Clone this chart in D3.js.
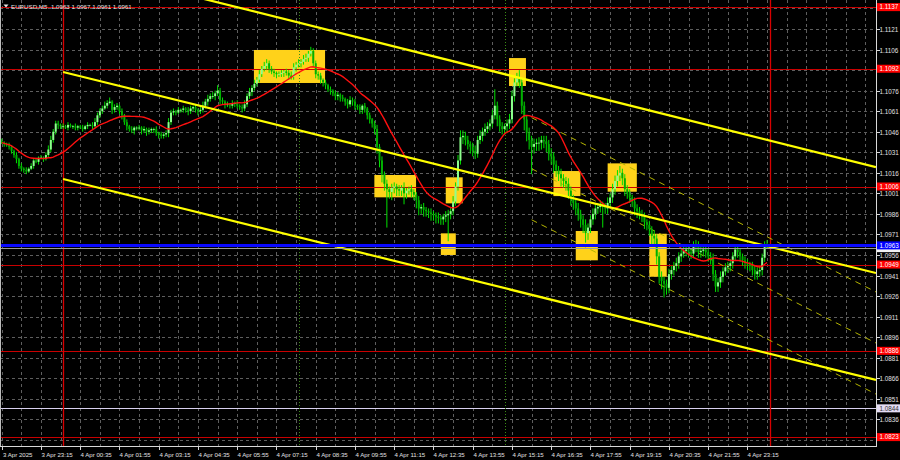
<!DOCTYPE html>
<html><head><meta charset="utf-8">
<script src="https://cdn.jsdelivr.net/npm/d3@7/dist/d3.min.js"></script>
<style>html,body{margin:0;padding:0;background:#000;overflow:hidden}</style>
</head><body><svg id="c" width="900" height="460"></svg>
<script>
// ---------------- DATA ----------------
const symbolTitle = "EURUSD,M5  1.0963 1.0967 1.0961 1.0961";
const PIP_BASE = 1.0900;            // closes are stored as pips above 1.0900
const firstBarTime = Date.UTC(2025, 3, 3, 21, 55);
const barMinutes = 5;
const closePips = [
138,137,136,135,132,129,126,121,119,118,
117,119,121,125,124,127,127,126,129,133,
140,146,152,151,150,150,149,151,150,150,
149,150,149,148,150,151,151,150,153,158,
161,163,165,167,168,162,164,165,161,158,
153,150,148,147,149,149,149,147,148,146,
147,148,148,145,144,143,144,145,153,160,
161,160,162,162,163,162,161,163,164,162,
161,162,165,168,170,172,172,174,176,169,
168,166,166,165,167,167,165,164,163,166,
172,175,178,181,184,188,192,194,196,192,
190,189,188,188,189,190,189,187,186,193,
195,196,197,199,200,203,205,196,188,187,
184,182,180,177,176,174,172,173,171,170,
168,166,169,168,165,164,162,165,163,158,
155,152,148,135,125,115,108,104,102,105,
106,104,103,105,101,103,104,102,100,96,
90,91,89,88,87,86,85,84,83,82,
84,85,86,88,95,106,125,142,143,140,
137,135,132,130,140,143,146,148,150,152,
158,165,155,150,148,150,152,155,172,182,
185,182,165,155,145,140,135,137,138,138,
140,139,137,130,128,122,118,115,112,110,
108,103,97,94,90,86,82,78,72,76,
82,86,90,91,92,91,90,94,98,104,
110,114,116,112,104,101,98,95,90,88,
86,84,80,78,75,70,68,55,40,37,
35,32,42,45,48,50,55,57,59,60,
58,57,62,63,58,59,60,58,55,54,
42,33,36,40,44,47,48,50,55,60,
58,55,52,50,49,48,45,42,44,45,
54,63,61];
const highExtPips = [
2,1,1,2,1,1,2,1,2,1, 2,1,2,1,2,1,2,1,2,3, 3,2,2,2,1,2,1,2,1,1, 2,1,1,2,1,2,1,2,3,2,
2,2,3,2,3,1,2,2,1,2, 1,2,1,2,1,1,2,1,2,1, 2,1,1,2,1,2,1,2,3,2, 2,1,2,1,2,1,2,2,1,2,
1,2,3,2,3,2,3,2,4,2, 2,1,2,1,2,1,2,1,2,3, 2,3,2,3,2,3,2,3,3,2, 2,2,1,2,2,1,2,2,3,3,
2,3,2,3,3,2,3,2,2,2, 2,1,2,1,2,1,2,2,1,2, 1,2,3,2,2,1,2,1,2,1, 2,1,2,3,2,3,2,3,2,3,
3,2,3,2,4,2,2,3,2,2, 3,2,3,2,2,3,2,2,3,2, 2,3,3,3,4,3,4,5,4,3, 3,2,3,4,3,4,3,4,3,3,
4,12,3,3,3,2,3,4,4,3, 4,6,3,3,3,4,3,4,3,4, 3,3,4,3,4,3,3,3,4,3, 3,4,3,3,3,4,3,3,4,3,
3,4,3,3,4,3,3,4,3,4, 4,4,5,3,3,3,3,2,3,3, 3,3,3,2,3,2,4,3,3,4, 3,3,4,3,3,4,3,3,3,4,
3,3,4,4,3,3,2,3,3,3, 3,3,3,4,3,3,3,3,3,4, 3,3,2,3,3,2,3,3,3,3, 3,3,4];
const lowExtPips = [
1,2,1,2,2,2,3,2,2,2, 2,1,1,2,1,2,1,2,1,2, 2,2,2,3,2,2,1,2,1,2, 2,2,1,2,1,2,1,2,1,2,
2,2,1,2,1,3,2,2,2,3, 2,3,2,2,3,2,2,3,2,3, 2,2,3,2,3,2,2,2,3,2, 2,2,1,2,2,2,3,2,2,2,
3,2,2,2,3,2,2,3,2,3, 2,3,2,2,2,3,2,2,3,2, 2,2,3,2,2,2,2,2,3,3, 2,3,3,2,2,3,2,3,2,2,
3,2,3,2,2,3,2,3,3,3, 3,3,3,2,3,2,3,3,3,2, 3,3,2,3,3,2,3,3,3,3, 3,3,4,5,5,6,5,28,5,6,
4,5,4,4,8,4,3,4,4,6, 5,4,5,4,4,5,4,5,4,4, 4,4,19,4,3,3,3,3,5,4, 4,5,4,4,3,3,4,3,3,3,
3,3,5,4,4,4,5,4,3,4, 3,4,6,8,6,7,20,5,5,6, 5,5,6,5,6,6,5,5,6,5, 5,6,5,5,5,5,6,6,7,5,
4,4,4,4,4,15,4,4,4,4, 4,4,4,5,5,4,4,4,5,5, 4,4,5,4,5,6,5,6,5,6, 10,5,4,4,4,4,4,4,3,4,
4,4,3,4,4,4,4,4,4,5, 5,4,4,4,4,3,4,4,4,3, 4,4,4,4,4,4,4,4,4,4, 4,3,0];
const maPeriod = 20;

const priceTicks = [1.0821,1.0836,1.0851,1.0866,1.0881,1.0896,1.0911,1.0926,1.0941,1.0956,1.0971,1.0986,
  1.1001,1.1016,1.1031,1.1046,1.1061,1.1076,1.1091,1.1106,1.1121,1.1136];
const timeLabelTimes = ["2025-04-03T21:55Z","2025-04-03T23:15Z","2025-04-04T00:35Z","2025-04-04T01:55Z",
  "2025-04-04T03:15Z","2025-04-04T04:35Z","2025-04-04T05:55Z","2025-04-04T07:15Z","2025-04-04T08:35Z",
  "2025-04-04T09:55Z","2025-04-04T11:15Z","2025-04-04T12:35Z","2025-04-04T13:55Z","2025-04-04T15:15Z",
  "2025-04-04T16:35Z","2025-04-04T17:55Z","2025-04-04T19:15Z","2025-04-04T20:35Z","2025-04-04T21:55Z",
  "2025-04-04T23:15Z"];
const timeLabelTexts = ["3 Apr 2025","3 Apr 23:15","4 Apr 00:35","4 Apr 01:55","4 Apr 03:15","4 Apr 04:35",
  "4 Apr 05:55","4 Apr 07:15","4 Apr 08:35","4 Apr 09:55","4 Apr 11:15","4 Apr 12:35","4 Apr 13:55",
  "4 Apr 15:15","4 Apr 16:35","4 Apr 17:55","4 Apr 19:15","4 Apr 20:35","4 Apr 21:55","4 Apr 23:15"];
const gridMinutes = 40;

const redLevels = [1.1137, 1.1092, 1.1006, 1.0949, 1.0886, 1.0823];
const blueLevel = 1.0963;
const bidLevel = 1.0961;
const lavenderLevel = 1.0844;
const redVerticalTimes = ["2025-04-04T00:00Z", "2025-04-05T00:00Z"];
const greenVerticalTimes = ["2025-04-04T08:00Z", "2025-04-04T15:00Z"];

// boxes: bar-index span and price span
const boxFrom = [102.8, 151.9, 181.0, 179.0, 206.8, 224.9, 247.0, 234.0, 264.0];
const boxTo   = [131.8, 168.9, 187.9, 185.1, 213.7, 235.9, 258.9, 243.0, 271.1];
const boxHigh = [1.11057, 1.10144, 1.10127, 1.09718, 1.10998, 1.10173, 1.10229, 1.09735, 1.09715];
const boxLow  = [1.10816, 1.09981, 1.09937, 1.09560, 1.10794, 1.09990, 1.10022, 1.09521, 1.09401];

// trend channel (bar index, price) anchors
const trendFromIdx = [25, 25, 25];
const trendFromPrice = [1.11687, 1.10896, 1.10115];
const trendToIdx = [356.4, 356.4, 356.4];
const trendToPrice = [1.10202, 1.09428, 1.08647];
// regression channel
const regFromIdx = 216, regFromPrice = 1.10190, regToIdx = 356.4, regToPrice = 1.08917;
const regOffsets = [-0.00373, 0, 0.00373];

// ---------------- LAYOUT ----------------
const plotL = 0, plotR = 876, plotT = 0, plotB = 446;
const svg = d3.select("#c");
svg.append("rect").attr("width", 900).attr("height", 460).attr("fill", "#000");

const x = d3.scaleLinear().domain([0, 1]).range([1.75, 1.75 + 2.453]);
const y = d3.scaleLinear().domain([1.08165, 1.11422]).range([plotB, plotT]);
const tIdx = s => (Date.parse(s) - firstBarTime) / (barMinutes * 60000);
const P = p => PIP_BASE + p / 10000;

const defs = svg.append("defs");
defs.append("clipPath").attr("id", "plot").append("rect")
  .attr("x", plotL).attr("y", plotT).attr("width", plotR - plotL).attr("height", plotB - plotT);
const g = svg.append("g").attr("clip-path", "url(#plot)");

// grid
const gridColor = "#5e5e5e";
const idxEnd = x.invert(plotR);
for (let k = 0; k * gridMinutes / barMinutes <= idxEnd; k++) {
  const xx = Math.round(x(k * gridMinutes / barMinutes)) + 0.5;
  g.append("line").attr("x1", xx).attr("x2", xx).attr("y1", plotT).attr("y2", plotB)
    .attr("stroke", gridColor).attr("stroke-dasharray", "3,3").attr("stroke-width", 1);
}
priceTicks.forEach(p => {
  const yy = Math.round(y(p)) + 0.5;
  g.append("line").attr("x1", plotL).attr("x2", plotR).attr("y1", yy).attr("y2", yy)
    .attr("stroke", gridColor).attr("stroke-dasharray", "3,3").attr("stroke-width", 1);
});

// boxes
boxFrom.forEach((b, i) => {
  g.append("rect").attr("x", x(b)).attr("width", x(boxTo[i]) - x(b))
    .attr("y", y(boxHigh[i])).attr("height", y(boxLow[i]) - y(boxHigh[i]))
    .attr("fill", "#ffd21a");
});

// horizontal levels
redLevels.forEach(p => {
  const yy = Math.round(y(p)) + 0.5;
  g.append("line").attr("x1", plotL).attr("x2", plotR).attr("y1", yy).attr("y2", yy)
    .attr("stroke", "#c80000").attr("stroke-width", 1);
});
{
  const yy = Math.round(y(lavenderLevel)) + 0.5;
  g.append("line").attr("x1", plotL).attr("x2", plotR).attr("y1", yy).attr("y2", yy)
    .attr("stroke", "#d8d0ee").attr("stroke-width", 1.2);
}
greenVerticalTimes.forEach(t => {
  const xx = Math.round(x(tIdx(t))) + 0.5;
  g.append("line").attr("x1", xx).attr("x2", xx).attr("y1", plotT).attr("y2", plotB)
    .attr("stroke", "#3c8c14").attr("stroke-dasharray", "1,2").attr("stroke-width", 1);
});
redVerticalTimes.forEach(t => {
  const xx = Math.round(x(tIdx(t))) + 0.5;
  g.append("line").attr("x1", xx).attr("x2", xx).attr("y1", plotT).attr("y2", plotB)
    .attr("stroke", "#d80000").attr("stroke-width", 1.3);
});

// regression channel dashed
regOffsets.forEach(o => {
  const slope = (regToPrice - regFromPrice) / (regToIdx - regFromIdx);
  g.append("line").attr("x1", x(regFromIdx)).attr("y1", y(regFromPrice + o))
    .attr("x2", x(idxEnd)).attr("y2", y(regFromPrice + o + slope * (idxEnd - regFromIdx)))
    .attr("stroke", "#b4b400").attr("stroke-width", 1).attr("stroke-dasharray", "6,5");
});

// candles
const bars = closePips.map((c, i) => {
  const o = i === 0 ? closePips[0] + 1 : closePips[i - 1];
  return { i, o: P(o), c: P(c), h: P(Math.max(o, c) + highExtPips[i]), l: P(Math.min(o, c) - lowExtPips[i]) };
});
const cg = g.append("g");
bars.forEach(b => {
  const xc = x(b.i);
  const up = b.c >= b.o;
  cg.append("line").attr("x1", xc).attr("x2", xc).attr("y1", y(b.h)).attr("y2", y(b.l))
    .attr("stroke", "#00e000").attr("stroke-width", 1);
  const top = y(Math.max(b.o, b.c)), bot = y(Math.min(b.o, b.c));
  cg.append("rect").attr("x", xc - 1).attr("width", 2)
    .attr("y", top).attr("height", Math.max(0.8, bot - top))
    .attr("fill", up ? "#8dff8d" : "#00b000");
});

// moving average (SMA of closes)
const ma = bars.map((b, i) => {
  const s = Math.max(0, i - maPeriod + 1);
  return { i, v: d3.mean(bars.slice(s, i + 1), d => d.c) };
});
g.append("path").datum(ma)
  .attr("d", d3.line().x(d => x(d.i)).y(d => y(d.v)).curve(d3.curveLinear))
  .attr("fill", "none").attr("stroke", "#ff1010").attr("stroke-width", 1.4);

// yellow trend channel
trendFromIdx.forEach((f, i) => {
  const slope = (trendToPrice[i] - trendFromPrice[i]) / (trendToIdx[i] - f);
  g.append("line").attr("x1", x(f)).attr("y1", y(trendFromPrice[i]))
    .attr("x2", x(idxEnd)).attr("y2", y(trendFromPrice[i] + slope * (idxEnd - f)))
    .attr("stroke", "#ffff00").attr("stroke-width", 2.2);
});

// bid + blue level
{
  const yb = Math.round(y(bidLevel)) + 0.5;
  g.append("line").attr("x1", plotL).attr("x2", plotR).attr("y1", yb).attr("y2", yb)
    .attr("stroke", "#9a9a9a").attr("stroke-width", 1);
  g.append("line").attr("x1", plotL).attr("x2", plotR).attr("y1", y(blueLevel)).attr("y2", y(blueLevel))
    .attr("stroke", "#0a0aff").attr("stroke-width", 3);
}

// frame
svg.append("line").attr("x1", plotR + 0.5).attr("x2", plotR + 0.5).attr("y1", 0).attr("y2", plotB + 1)
  .attr("stroke", "#d8d8d8").attr("stroke-width", 1);
svg.append("line").attr("x1", 0).attr("x2", plotR + 1).attr("y1", plotB + 0.5).attr("y2", plotB + 0.5)
  .attr("stroke", "#d8d8d8").attr("stroke-width", 1);
svg.append("line").attr("x1", 0.5).attr("x2", 0.5).attr("y1", 0).attr("y2", plotB)
  .attr("stroke", "#bdbdbd").attr("stroke-width", 1);

const FONT = "'Liberation Sans', Arial, sans-serif";
// right axis (tick texts hidden under level labels are not drawn, as in the reference)
const labelLevels = redLevels.concat([lavenderLevel, bidLevel, blueLevel]);
priceTicks.forEach(p => {
  const yy = Math.round(y(p)) + 0.5;
  svg.append("line").attr("x1", plotR + 1).attr("x2", plotR + 4).attr("y1", yy).attr("y2", yy)
    .attr("stroke", "#d8d8d8");
  const hidden = labelLevels.some(l => Math.abs(y(l) - y(p)) < 6.5);
  if (!hidden) {
    svg.append("text").attr("x", 879.5).attr("y", yy + 2.3).text(p.toFixed(4))
      .attr("font-family", FONT).attr("font-size", 6.3).attr("fill", "#e0e0e0");
  }
});
function priceLabel(p, bg, fg, showText) {
  const yy = y(p);
  svg.append("rect").attr("x", plotR + 1).attr("y", yy - 4).attr("width", 23).attr("height", 8).attr("fill", bg);
  if (showText) {
    svg.append("text").attr("x", 879.5).attr("y", yy + 2.3).text(p.toFixed(4))
      .attr("font-family", FONT).attr("font-size", 6.3).attr("fill", fg);
  }
}
redLevels.forEach(p => priceLabel(p, "#ff0000", "#ffffff", true));
priceLabel(lavenderLevel, "#e4dcf4", "#303030", true);
priceLabel(bidLevel, "#f2f2f2", "#202020", false);
priceLabel(blueLevel, "#0000ff", "#ffffff", true);

// bottom axis
timeLabelTimes.forEach((t, i) => {
  const xx = Math.round(x(tIdx(t))) + 0.5;
  svg.append("line").attr("x1", xx).attr("x2", xx).attr("y1", plotB + 1).attr("y2", plotB + 4)
    .attr("stroke", "#d8d8d8");
  svg.append("text").attr("x", xx + (i === 0 ? 0.5 : 0)).attr("y", 456.5).text(timeLabelTexts[i])
    .attr("font-family", FONT).attr("font-size", 6.1).attr("fill", "#e0e0e0");
});

// title
svg.append("path").attr("d", "M3.5,4.5 L8.5,4.5 L6,7.5 Z").attr("fill", "#e8e8e8");
svg.append("text").attr("x", 11).attr("y", 9).text(symbolTitle).attr("xml:space", "preserve")
  .attr("font-family", FONT).attr("font-size", 6.2).attr("fill", "#e0e0e0");
</script></body></html>
